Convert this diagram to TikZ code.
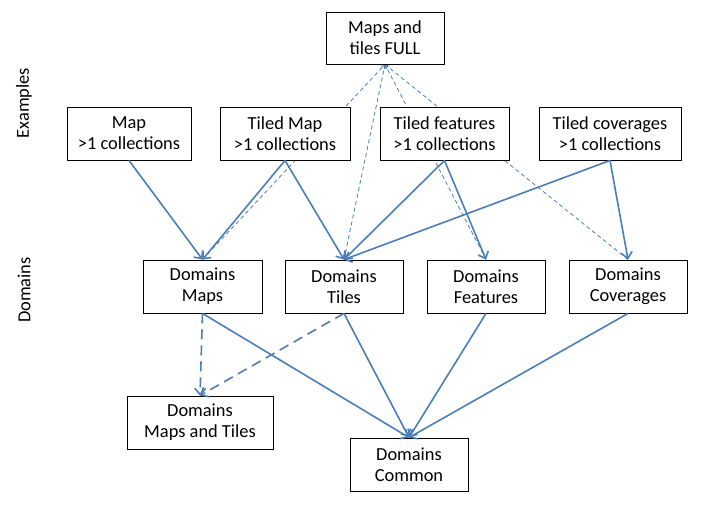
\documentclass[tikz,border=0pt]{standalone}
\usepackage{fontspec}
\setmainfont{Carlito}
\usetikzlibrary{arrows.meta,backgrounds}
\definecolor{ln}{HTML}{4A7EBB}
\tikzset{
  box/.style={draw=black, line width=0.9pt, fill=white, align=center, inner sep=0pt,
    minimum height=53pt, font=\fontsize{18.4}{21}\selectfont},
  solidarr/.style={draw=ln, line width=1.6pt, -{Straight Barb[length=6pt,width=11pt,line width=1.6pt]}},
  dasharr/.style={draw=ln, line width=1.6pt, dash pattern=on 10pt off 6pt, -{Straight Barb[length=6pt,width=11pt,line width=1.6pt]}},
  thinarr/.style={draw=ln, line width=0.8pt, dash pattern=on 4pt off 3pt, -{Straight Barb[length=3pt,width=6pt,line width=0.8pt]}},
  lbl/.style={rotate=90, font=\fontsize{18.4}{21}\selectfont}
}
\begin{document}
\begin{tikzpicture}[x=1pt,y=-1pt]
\useasboundingbox (0,0) rectangle (714,511);
\node[box, minimum width=118pt, minimum height=52pt] (full) at (385,38) {Maps and\\tiles FULL};
\node[box, minimum width=124pt] (map) at (129,133.5) {Map\\>1 collections};
\node[box, minimum width=130pt] (tmap) at (285,133.5) {Tiled Map\\>1 collections};
\node[box, minimum width=129pt] (tfeat) at (444.5,133.5) {Tiled features\\>1 collections};
\node[box, minimum width=142pt] (tcov) at (610,133.5) {Tiled coverages\\>1 collections};
\node[box, minimum width=119pt] (dmaps) at (202.5,286.5) {Domains\\Maps};
\node[box, minimum width=118pt] (dtiles) at (344,286.5) {Domains\\Tiles};
\node[box, minimum width=118pt] (dfeat) at (486,286.5) {Domains\\Features};
\node[box, minimum width=118pt] (dcov) at (628,286.5) {Domains\\Coverages};
\node[box, minimum width=146pt] (dmt) at (200,422.5) {Domains\\Maps and Tiles};
\node[box, minimum width=118pt] (dcom) at (409,464.5) {Domains\\Common};
\node[lbl] (ex) at (24,103) {Examples};
\node[lbl] (dom) at (24,290) {Domains};
\begin{scope}[on background layer]
\draw[thinarr] (dmaps.north) -- (full.south);
\draw[thinarr] (dtiles.north) -- (full.south);
\draw[thinarr] (dfeat.north) -- (full.south);
\draw[thinarr] (dcov.north) -- (full.south);
\end{scope}
\draw[solidarr] (map.south) -- (dmaps.north);
\draw[solidarr] (tmap.south) -- (dmaps.north);
\draw[solidarr] (tmap.south) -- (dtiles.north);
\draw[solidarr] (tfeat.south) -- (dtiles.north);
\draw[solidarr] (tfeat.south) -- (dfeat.north);
\draw[solidarr] (tcov.south) -- (dtiles.north);
\draw[solidarr] (tcov.south) -- (dcov.north);
\draw[solidarr] (dmaps.south) -- (dcom.north);
\draw[solidarr] (dtiles.south) -- (dcom.north);
\draw[solidarr] (dfeat.south) -- (dcom.north);
\draw[solidarr] (dcov.south) -- (dcom.north);
\draw[dasharr] (dmaps.south) -- (dmt.north);
\draw[dasharr] (dtiles.south) -- (dmt.north);
\end{tikzpicture}
\end{document}
